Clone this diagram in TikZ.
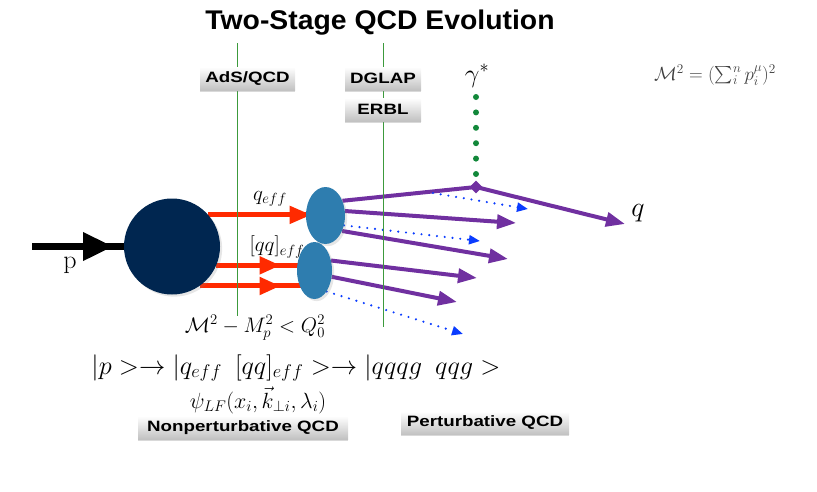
\RequirePackage{fix-cm}
\documentclass[tikz,border=0pt]{standalone}
\usepackage{fontspec}
\newfontfamily\titlefont[FakeStretch=1.05]{Liberation Sans}
\newfontfamily\labelfont[FakeStretch=1.25]{Liberation Sans}
\usepackage{amsmath}
\usepackage{xcolor}
\definecolor{navy}{HTML}{002650}
\definecolor{cluster}{HTML}{2E7DAF}
\definecolor{gluonred}{HTML}{FF2A00}
\definecolor{quarkpurple}{HTML}{7030A0}
\definecolor{stagegreen}{HTML}{3C9A3C}
\definecolor{photongreen}{HTML}{12883A}
\definecolor{dotblue}{HTML}{0A3CFF}
\newcommand{\setsize}[1]{\fontsize{#1}{#1}\selectfont}
\usepackage{tikz}
\usetikzlibrary{arrows.meta, positioning, shapes.geometric, shadows, decorations.markings, backgrounds}

\tikzset{
  stagebox/.style={rectangle, minimum height=23pt, inner sep=0pt, top color=white, bottom color=black!24,
    drop shadow={opacity=0.3, shadow xshift=0pt, shadow yshift=-1.5pt}, font=\labelfont\bfseries\setsize{15}},
  stageline/.style={stagegreen, line width=0.8pt},
  formula/.style={inner sep=0pt},
  hadron/.style={circle, fill=navy, minimum size=96pt, inner sep=0pt, drop shadow={opacity=0.2}},
  blob/.style={ellipse, fill=cluster, inner sep=0pt, drop shadow={opacity=0.2}},
  vertex/.style={diamond, fill=quarkpurple, minimum size=13pt, inner sep=0pt},
  midarrow/.style 2 args={postaction={decorate}, decoration={markings,
    mark=at position #1 with {\arrow{Triangle[length=#2, width=17pt]}}}},
  beam/.style={black, line width=7pt, postaction={decorate}, decoration={markings,
    mark=at position 81pt with {\arrow{Triangle[length=30pt, width=27pt]}}}},
  diquark/.style={color=gluonred, line width=5pt},
  quark/.style={color=quarkpurple, line width=4pt, -{Triangle[length=19pt, width=14pt]}},
  gluondots/.style={color=dotblue, line width=2.4pt, line cap=round, dash pattern=on 0pt off 7.8pt,
    -{Triangle[length=11pt, width=9pt]}},
  photon/.style={photongreen, line width=6pt, line cap=round, dash pattern=on 0pt off 15.4pt},
}

\begin{document}
\begin{tikzpicture}[x=1pt, y=-1pt]
  \useasboundingbox (0,0) rectangle (817,491);

  % --- Title ---
  \node[anchor=base] (title) at (380,29) {\titlefont\bfseries\setsize{27}Two-Stage QCD Evolution};

  % --- Stage lines and labels ---
  \draw[stageline] (237,43) -- (237,316);
  \draw[stageline] (383,43) -- (383,327);
  \node[stagebox, minimum width=95pt] (ads) at (247.5,78.5) {AdS/QCD};
  \node[stagebox, minimum width=76pt] (dglap) at (383,78.5) {DGLAP};
  \node[stagebox, minimum width=76pt] (erbl) at (383,109.5) {ERBL};
  \node[stagebox, minimum width=210pt] (nonpert) at (243,427.5) {Nonperturbative QCD};
  \node[stagebox, minimum width=168pt] (pert) at (485,423) {Perturbative QCD};

  % --- Proton and clusters ---
  \node[hadron] (proton) at (172,246.5) {};
  \node[blob, minimum width=39pt, minimum height=57pt] (qeff) at (325.5,215.5) {};
  \node[blob, minimum width=35pt, minimum height=57pt] (qqeff) at (314.5,270.5) {};
  \node[vertex] (vertex) at (476,187) {};

  % --- Labels ---
  \node[formula] (gamma) at (477,76) {\setsize{26}$\gamma^*$};
  \node[formula] (plabel) at (70,265) {\setsize{26}$\mathrm{p}$};
  \node[formula] (qefflabel) at (270,199) {\setsize{21}$q_{eff}$};
  \node[formula] (qqefflabel) at (277,247) {\setsize{21}$[qq]_{eff}$};
  \node[formula] (qlabel) at (638,213) {\setsize{28}$q$};
  \node[formula] (cut) at (255,328) {\setsize{21}$\mathcal{M}^2 - M_p^2 < Q_0^2$};
  \node[formula] (mass) at (715,75) {\setsize{19}\color{black!75}$\mathcal{M}^2 = (\sum_i^n p_i^\mu)^2$};
  \node[formula, anchor=base] (states) at (296,374) {\setsize{26.3}$|p >\rightarrow |q_{eff}\mkern9mu [qq]_{eff} >\rightarrow |qqqg\mkern9mu qqg >$};
  \node[formula, anchor=base] (lfwf) at (258,408) {\setsize{22}$\psi_{LF}(x_i, \vec{k}_{\perp i}, \lambda_i)$};

  % --- Arrow ends ---
  \coordinate (pin) at (32,246.5);
  \coordinate (g0) at (476,97);
  \coordinate (qtip) at (625,224);
  \coordinate (tip2) at (516,223);
  \coordinate (tip3) at (508,259);
  \coordinate (tip4) at (477,278);
  \coordinate (tip5) at (457,302);
  \coordinate (b1s) at (433,193);
  \coordinate (b1) at (528,209);
  \coordinate (b2) at (480,241);
  \coordinate (b3) at (463,334);

  \begin{scope}[on background layer]
    \draw[beam] (pin) -- (proton.west);
    \draw[diquark, midarrow={-14pt}{22pt}] (proton.41) -- (proton.41 -| qeff.center);
    \draw[diquark, midarrow={-34pt}{21pt}] (proton.-23) -- (proton.-23 -| qqeff.center);
    \draw[diquark, midarrow={-34pt}{21pt}] (proton.-55) -- (proton.-55 -| qqeff.center);
    \draw[photon] (g0) -- (vertex);
    \draw[quark] (qeff.41) -- (vertex.center) -- (qtip);
    \draw[quark] (qeff.13) -- (tip2);
    \draw[quark] (qeff.-43) -- (tip3);
    \draw[quark] (qqeff.31) -- (tip4);
    \draw[quark] (qqeff.-20) -- (tip5);
    \draw[gluondots] (b1s) -- (b1);
    \draw[gluondots] (qeff.-28) -- (b2);
    \draw[gluondots] (qqeff.-60) -- (b3);
  \end{scope}
\end{tikzpicture}
\end{document}
